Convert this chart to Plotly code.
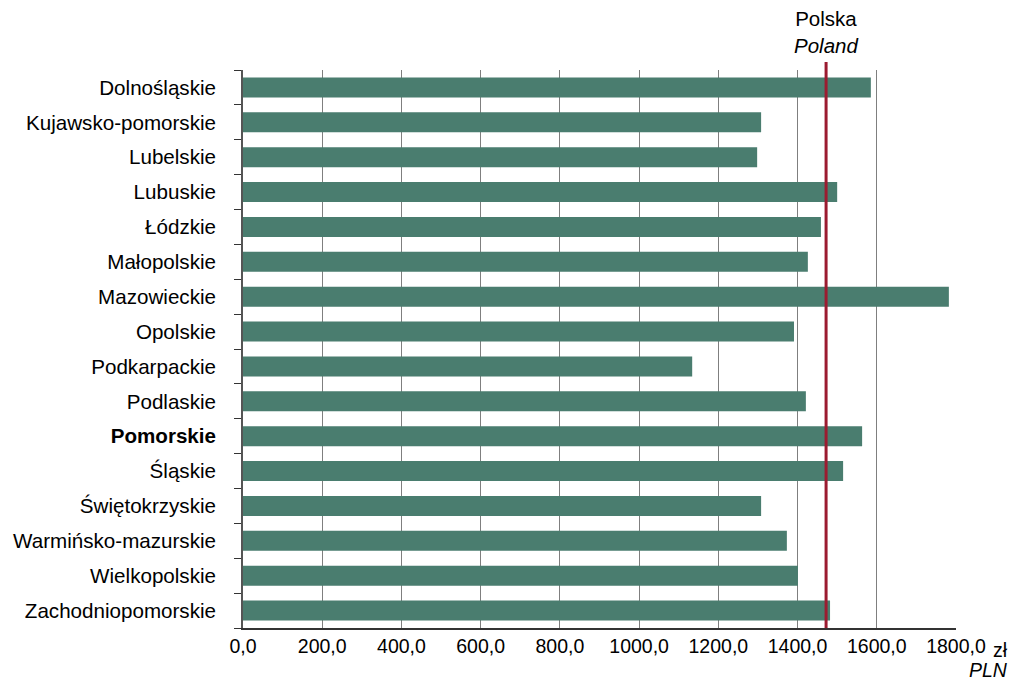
import plotly.graph_objects as go

regions = ["Dolnośląskie", "Kujawsko-pomorskie", "Lubelskie", "Lubuskie", "Łódzkie",
           "Małopolskie", "Mazowieckie", "Opolskie", "Podkarpackie", "Podlaskie",
           "<b>Pomorskie</b>", "Śląskie", "Świętokrzyskie", "Warmińsko-mazurskie",
           "Wielkopolskie", "Zachodniopomorskie"]
values = [1585, 1308, 1298, 1500, 1459, 1426, 1782, 1391, 1134, 1421,
          1563, 1515, 1308, 1373, 1401, 1482]
poland = 1472
x_ticks = [0, 200, 400, 600, 800, 1000, 1200, 1400, 1600, 1800]
x_labels = ["0,0", "200,0", "400,0", "600,0", "800,0", "1000,0", "1200,0", "1400,0", "1600,0", "1800,0"]
boundaries = [i - 0.5 for i in range(len(regions) + 1)]

FONT = "Liberation Sans, Arial, sans-serif"

fig = go.Figure()
fig.add_trace(go.Bar(
    x=values, y=regions, orientation="h",
    marker=dict(color="#4A7D6F", line=dict(width=0)),
    width=0.57, showlegend=False, hoverinfo="x+y"))
fig.add_trace(go.Scatter(x=[None], y=[None], yaxis="y2", showlegend=False, hoverinfo="skip"))

fig.add_shape(type="line", xref="x", yref="paper", x0=poland, x1=poland, y0=0, y1=1.0145,
              line=dict(color="#9B1B30", width=3), layer="above")

fig.add_annotation(x=poland, xref="x", y=1.02, yref="paper", yanchor="bottom", xanchor="center",
                   text="Polska<br><i>Poland</i>", showarrow=False,
                   font=dict(family=FONT, size=20.5, color="#000"), align="center")
fig.add_annotation(x=1.062, xref="paper", y=-0.039, yref="paper", text="zł",
                   xanchor="center", yanchor="middle",
                   showarrow=False, font=dict(family=FONT, size=19.5, color="#000"))
fig.add_annotation(x=1.046, xref="paper", y=-0.076, yref="paper", text="<i>PLN</i>",
                   xanchor="center", yanchor="middle",
                   showarrow=False, font=dict(family=FONT, size=19.5, color="#000"))

fig.update_layout(
    width=1010, height=673,
    margin=dict(l=235, r=62, t=62, b=53, autoexpand=False),
    paper_bgcolor="white", plot_bgcolor="white",
    bargap=0.43,
    xaxis=dict(range=[0, 1800], tickvals=x_ticks, ticktext=x_labels,
               showgrid=True, gridcolor="#7f7f7f", gridwidth=1,
               showline=True, linecolor="#333", linewidth=1.5, ticks="",
               zeroline=False, fixedrange=True, automargin=False,
               tickfont=dict(family=FONT, size=19.5, color="#000")),
    yaxis=dict(type="category", autorange="reversed", ticks="", showline=False,
               showgrid=False, ticklabelstandoff=26, automargin=False,
               tickfont=dict(family=FONT, size=20.6, color="#000")),
    yaxis2=dict(overlaying="y", side="left", anchor="x", range=[len(regions) - 0.5, -0.5],
                tickvals=boundaries, ticks="outside", ticklen=7, tickcolor="#333",
                showticklabels=False, showgrid=False, zeroline=False, automargin=False,
                showline=True, linecolor="#555", linewidth=2),
)

fig.write_html("out.html")
